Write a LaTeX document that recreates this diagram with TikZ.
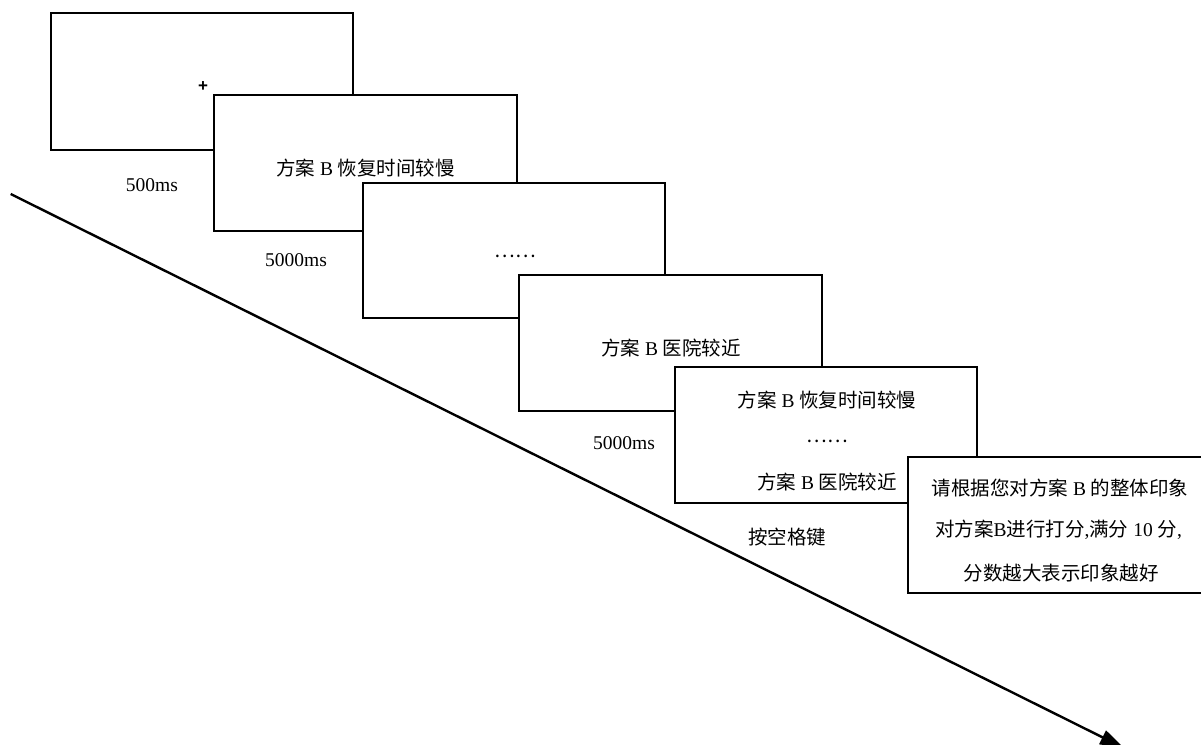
\documentclass[tikz,border=0pt]{standalone}
\usepackage{fontspec}
\setmainfont{Liberation Serif}
\newfontfamily\cjk{Noto Sans CJK SC}
\newfontfamily\plusfont{Liberation Sans}
\usetikzlibrary{arrows.meta}
\newcommand\zh[1]{{\cjk #1}}
\tikzset{
  screen/.style={draw=black, line width=1.2pt, fill=white},
  lbl/.style={inner sep=0pt, font=\fontsize{19.5}{23}\selectfont},
  timeline/.style={line width=2.4pt, -{Triangle[length=24pt,width=15pt]}}
}
\begin{document}
\begin{tikzpicture}[x=1pt,y=-1pt]
\useasboundingbox (0,0) rectangle (1201,744);
\clip (0,0) rectangle (1201,744);
\fill[white] (0,0) rectangle (1201,744);
% timeline
\coordinate (tstart) at (10.7,194);
\coordinate (tend) at (1124,748);
\draw[timeline] (tstart) -- (tend);
% screens
\draw[screen] (51,13) rectangle (353,150);
\draw[screen] (214,95) rectangle (517,231);
\draw[screen] (363,183) rectangle (665,318);
\draw[screen] (519,275) rectangle (822,411);
\draw[screen] (675,367) rectangle (977,503);
\draw[screen] (908,457) rectangle (1212,593);
% texts
\node[inner sep=0pt, font=\plusfont\bfseries\fontsize{17}{20}\selectfont] (fix) at (203,87) {+};
\node[lbl] (t1) at (152,185.5) {500ms};
\node[lbl] (s2) at (365.5,168) {\zh{方案} B \zh{恢复时间较慢}};
\node[lbl] (t2) at (296,260) {5000ms};
\node[lbl] (s3) at (515,256) {\zh{……}};
\node[lbl] (s4) at (671,348) {\zh{方案} B \zh{医院较近}};
\node[lbl] (t4) at (624,443) {5000ms};
\node[lbl] (s5a) at (827,400) {\zh{方案} B \zh{恢复时间较慢}};
\node[lbl] (s5b) at (827.5,441) {\zh{……}};
\node[lbl] (s5c) at (827,482) {\zh{方案} B \zh{医院较近}};
\node[lbl] (key) at (787,537) {\zh{按空格键}};
\node[lbl] (s6a) at (1060,488) {\zh{请根据您对方案} B \zh{的整体印象}};
\node[lbl] (s6b) at (1058.5,530) {\zh{对方案}B\zh{进行打分},\zh{满分} 10 \zh{分},};
\node[lbl] (s6c) at (1061,573) {\zh{分数越大表示印象越好}};
\end{tikzpicture}
\end{document}
